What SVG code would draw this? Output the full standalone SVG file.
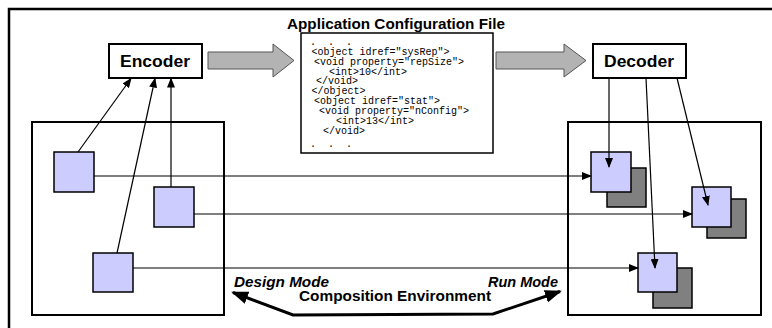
<svg xmlns="http://www.w3.org/2000/svg" width="772" height="328" viewBox="0 0 772 328">
<style>
.lbl{font-family:"Liberation Sans",Arial,sans-serif;font-weight:bold;fill:#000}
.it{font-style:italic}
.code{font-family:"Liberation Mono","Courier New",monospace;font-size:10px;fill:#000}
.box{fill:#fff;stroke:#000;stroke-width:2}
.sq{fill:#ccccff;stroke:#000;stroke-width:1.5}
.bk{fill:#808080;stroke:#000;stroke-width:1.5}
.big{fill:#b3b3b3;stroke:#555;stroke-width:1}
.cn{fill:none;stroke:#000;stroke-width:1.2}
</style>
<defs>
<marker id="ah" markerUnits="userSpaceOnUse" markerWidth="10" markerHeight="8" refX="9" refY="4" orient="auto">
<path d="M0,0 L10,4 L0,8 z" fill="#000"/>
</marker>
<marker id="bh" markerUnits="userSpaceOnUse" markerWidth="17" markerHeight="13" refX="15" refY="6.5" orient="auto-start-reverse">
<path d="M0,0 L17,6.5 L0,13 z" fill="#000"/>
</marker>
</defs>
<rect x="9" y="9" width="800" height="400" fill="none" stroke="#000" stroke-width="2.5"/>
<g id="leftEnv"><rect class="box" x="32" y="122" width="192" height="193"/></g>
<g id="rightEnv"><rect class="box" x="568" y="122" width="193" height="193"/></g>
<g id="encoder"><rect class="box" x="109" y="44" width="93" height="34"/><text class="lbl" x="120" y="67" font-size="16" textLength="70" lengthAdjust="spacingAndGlyphs">Encoder</text></g>
<g id="decoder"><rect class="box" x="593" y="44" width="93" height="34"/><text class="lbl" x="604" y="67" font-size="16" textLength="70" lengthAdjust="spacingAndGlyphs">Decoder</text></g>
<g id="arrowEnc"><polygon class="big" points="208,52 273,52 273,44 294,60.5 273,77 273,69 208,69"/></g>
<g id="arrowDec"><polygon class="big" points="496,52 564,52 564,44 586,60.5 564,77 564,69 496,69"/></g>
<g id="configFile">
<text class="lbl" x="287" y="29" font-size="15" textLength="218" lengthAdjust="spacingAndGlyphs">Application Configuration File</text>
<rect x="301" y="33" width="192" height="120" fill="#fff" stroke="#000" stroke-width="1.5"/>
<text class="code" xml:space="preserve" x="310" y="45">.  .  .</text>
<text class="code" x="311.5" y="55">&lt;object idref="sysRep"&gt;</text>
<text class="code" x="314" y="65">&lt;void property="repSize"&gt;</text>
<text class="code" x="329" y="74.5">&lt;int&gt;10&lt;/int&gt;</text>
<text class="code" x="316" y="84">&lt;/void&gt;</text>
<text class="code" x="311.5" y="94">&lt;/object&gt;</text>
<text class="code" x="314" y="104">&lt;object idref="stat"&gt;</text>
<text class="code" x="319" y="114">&lt;void property="nConfig"&gt;</text>
<text class="code" x="336" y="124">&lt;int&gt;13&lt;/int&gt;</text>
<text class="code" x="323" y="134">&lt;/void&gt;</text>
<text class="code" xml:space="preserve" x="310" y="147">.  .  .</text>
</g>
<g id="ls1"><rect class="sq" x="54" y="152" width="40" height="40"/></g>
<g id="ls2"><rect class="sq" x="154" y="187" width="40" height="40"/></g>
<g id="ls3"><rect class="sq" x="93" y="253" width="40" height="39"/></g>
<g id="rs1"><rect class="bk" x="607" y="168" width="39" height="39"/><rect class="sq" x="591" y="152" width="40" height="40"/></g>
<g id="rs2"><rect class="bk" x="707" y="199" width="39" height="39"/><rect class="sq" x="692" y="187" width="39" height="40"/></g>
<g id="rs3"><rect class="bk" x="653" y="268" width="39" height="40"/><rect class="sq" x="638" y="253" width="39" height="39"/></g>
<g id="connectors">
<line class="cn" x1="78" y1="152" x2="131" y2="78.5" marker-end="url(#ah)"/>
<line class="cn" x1="117" y1="253" x2="155" y2="78.5" marker-end="url(#ah)"/>
<line class="cn" x1="171" y1="187" x2="171" y2="78.5" marker-end="url(#ah)"/>
<line class="cn" x1="94" y1="176" x2="591" y2="176" marker-end="url(#ah)"/>
<line class="cn" x1="194" y1="214" x2="692" y2="214" marker-end="url(#ah)"/>
<line class="cn" x1="133" y1="268" x2="638" y2="268" marker-end="url(#ah)"/>
<line class="cn" x1="609" y1="78" x2="609" y2="167" marker-end="url(#ah)"/>
<line class="cn" x1="646" y1="78" x2="655" y2="268" marker-end="url(#ah)"/>
<line class="cn" x1="677" y1="78" x2="708" y2="205" marker-end="url(#ah)"/>
<path d="M233,292.5 L293,315 L493,314 L560,291.5" fill="none" stroke="#000" stroke-width="3" marker-start="url(#bh)" marker-end="url(#bh)"/>
</g>
<g id="labels">
<text class="lbl it" x="234" y="287" font-size="14" textLength="95" lengthAdjust="spacingAndGlyphs">Design Mode</text>
<text class="lbl it" x="488" y="287" font-size="14" textLength="70" lengthAdjust="spacingAndGlyphs">Run Mode</text>
<text class="lbl" x="299" y="301" font-size="15" textLength="192" lengthAdjust="spacingAndGlyphs">Composition Environment</text>
</g>
</svg>
